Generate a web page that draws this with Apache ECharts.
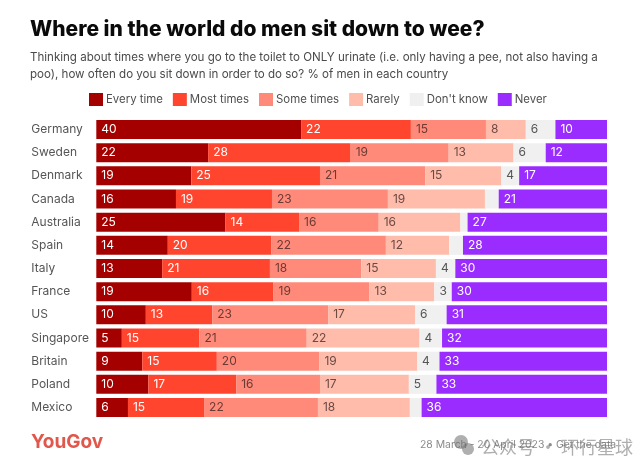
<!DOCTYPE html>
<html><head><meta charset="utf-8">
<style>html,body{margin:0;padding:0;background:#fff}#c{width:640px;height:472px}</style>
<script src="https://cdn.jsdelivr.net/npm/echarts@6/dist/echarts.min.js"></script>
</head><body><div id="c"></div>
<script>
const countries=["Germany","Sweden","Denmark","Canada","Australia","Spain","Italy","France","US","Singapore","Britain","Poland","Mexico"];
const everyTime=[40.1,21.9,18.6,15.6,25.3,14.0,12.9,18.7,9.7,5.0,9.0,10.2,6.2];
const mostTimes=[21.5,27.9,25.2,18.8,14.4,20.3,21.1,16.0,13.0,15.2,14.6,17.2,14.9];
const someTimes=[14.7,19.2,20.6,22.7,15.6,22.4,17.9,18.8,22.7,21.0,20.1,16.4,22.3];
const rarely=[7.8,12.7,14.9,19.0,16.0,12.4,14.6,12.7,17.0,22.1,19.1,17.4,18.0];
const dontKnow=[5.8,6.3,3.5,2.7,1.4,2.7,3.8,3.4,6.2,4.4,4.4,5.4,2.3];
const never=[10.1,12.0,17.2,21.2,27.3,28.2,29.7,30.4,31.4,32.3,32.8,33.4,36.3];
const names=["Every time","Most times","Some times","Rarely","Don't know","Never"];
const columns=[everyTime,mostTimes,someTimes,rarely,dontKnow,never];
const colors=["#a50000","#ff452e","#ff8a7a","#ffbcab","#f0f0f0","#9a2cff"];
const labelColors=["#ffffff","#ffffff","#6b3a34","#6b4a44","#555555","#ffffff"];
const FONT="Inter";
const chart=echarts.init(document.getElementById('c'),null,{renderer:'canvas'});
chart.setOption({
  animation:false,
  backgroundColor:'#fff',
  textStyle:{fontFamily:FONT},
  title:[
    {text:"Where in the world do men sit down to wee?",left:25,top:14,textStyle:{fontFamily:FONT,fontSize:21,fontWeight:800,color:'#0a0a0a'}},
    {text:"Thinking about times where you go to the toilet to ONLY urinate (i.e. only having a pee, not also having a\npoo), how often do you sit down in order to do so? % of men in each country",left:25,top:44,textStyle:{fontFamily:FONT,fontSize:11.55,fontWeight:400,color:'#4a4a4a',lineHeight:17}}
  ],
  legend:{left:84,top:88,itemWidth:14,itemHeight:13,itemGap:10,icon:'rect',data:names,selectedMode:false,
    textStyle:{fontFamily:FONT,fontSize:11.4,color:'#4f4f4f',padding:[0,0,0,-2]}},
  grid:{left:96.3,top:117.9,width:510.7,height:301.2,containLabel:false},
  xAxis:{type:'value',min:0,max:100,show:false},
  yAxis:{type:'category',data:countries,inverse:true,axisLine:{show:false},axisTick:{show:false},
    axisLabel:{align:'left',margin:65,fontFamily:FONT,fontSize:12,color:'#555555'}},
  series:columns.map((vals,i)=>({
    type:'bar',name:names[i],stack:'all',data:vals,barWidth:19,
    itemStyle:{color:colors[i]},
    label:{show:true,position:'insideLeft',distance:5,fontFamily:FONT,fontSize:12,color:labelColors[i],
      formatter:p=>p.value>=3?String(Math.round(p.value)):''}
  })),
  graphic:[
    {type:'text',left:31,top:433,style:{text:'YouGov',fontFamily:FONT,fontSize:19,fontWeight:700,fill:'#e2574c'}},
    {type:'text',left:420,top:440,style:{text:'28 March - 20 April 2023 • Get the data',fontFamily:FONT,fontSize:10.4,fill:'#8a8a8a'}},
    {type:'circle',shape:{cx:461,cy:442,r:7},style:{fill:'rgba(110,110,110,0.55)'},z:20},
    {type:'circle',shape:{cx:468,cy:449,r:6},style:{fill:'rgba(110,110,110,0.55)'},z:20},
    {type:'text',left:481,top:438,z:20,style:{text:'公众号 · 环行星球',fontFamily:'Noto Sans CJK SC',fontSize:18,fill:'rgba(110,110,110,0.55)'}}
  ]
});
</script></body></html>
